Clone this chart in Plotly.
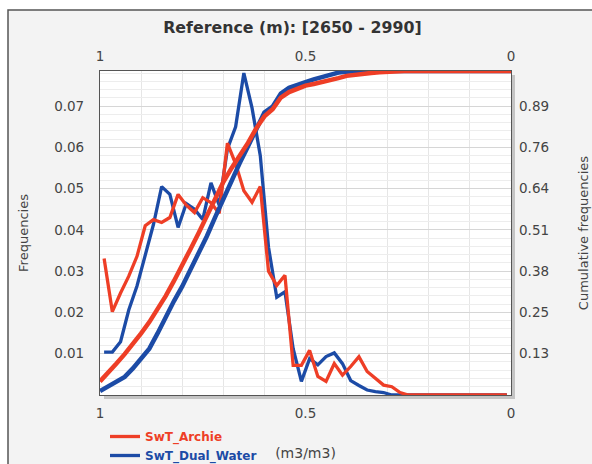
import plotly.graph_objects as go

# ---------------- data ----------------
freq_x = [0.99, 0.97, 0.95, 0.93, 0.91, 0.89, 0.87, 0.85, 0.83, 0.81,
          0.79, 0.77, 0.75, 0.73, 0.71, 0.69, 0.67, 0.65, 0.63, 0.61,
          0.59, 0.57, 0.55, 0.53, 0.51, 0.49, 0.47, 0.45, 0.43, 0.41,
          0.39, 0.37, 0.35, 0.33, 0.31, 0.29, 0.27, 0.25, 0.23, 0.21,
          0.19, 0.17, 0.15, 0.13, 0.11, 0.09, 0.07, 0.05, 0.03, 0.01]

archie_freq = [0.0331, 0.0202, 0.0247, 0.0288, 0.0336, 0.0410, 0.0425, 0.0418, 0.0430, 0.0486,
               0.0460, 0.0442, 0.0478, 0.0466, 0.0440, 0.0610, 0.0560, 0.0495, 0.0467, 0.0505,
               0.0300, 0.0265, 0.0290, 0.0072, 0.0072, 0.0108, 0.0045, 0.0033, 0.0076, 0.0048,
               0.0069, 0.0093, 0.0057, 0.0040, 0.0024, 0.0020, 0.0006, 0.0, 0.0, 0.0,
               0.0, 0.0, 0.0, 0.0, 0.0, 0.0, 0.0, 0.0, 0.0, 0.0]

dual_freq = [0.0104, 0.0104, 0.0129, 0.0206, 0.0264, 0.0339, 0.0413, 0.0505, 0.0486, 0.0406,
             0.0464, 0.0450, 0.0425, 0.0514, 0.0460, 0.0596, 0.0650, 0.0780, 0.0695, 0.0580,
             0.0358, 0.0237, 0.0250, 0.0112, 0.0033, 0.0088, 0.0073, 0.0093, 0.0102, 0.0076,
             0.0035, 0.0023, 0.0012, 0.0008, 0.0006, 0.0, 0.0, 0.0, 0.0, 0.0,
             0.0, 0.0, 0.0, 0.0, 0.0, 0.0, 0.0, 0.0, 0.0, 0.0]

cum_x = [1.00, 0.98, 0.96, 0.94, 0.92, 0.90, 0.88, 0.86, 0.84, 0.82,
         0.80, 0.78, 0.76, 0.74, 0.72, 0.70, 0.68, 0.66, 0.64, 0.62,
         0.60, 0.58, 0.56, 0.54, 0.52, 0.50, 0.48, 0.46, 0.44, 0.42,
         0.40, 0.38, 0.36, 0.34, 0.32, 0.30, 0.28, 0.26, 0.24, 0.22,
         0.20, 0.18, 0.16, 0.14, 0.12, 0.10, 0.08, 0.06, 0.04, 0.02, 0.00]

archie_cum = [0.042, 0.068, 0.097, 0.126, 0.157, 0.190, 0.225, 0.265, 0.306, 0.352,
              0.398, 0.450, 0.500, 0.552, 0.605, 0.657, 0.700, 0.738, 0.778, 0.823,
              0.860, 0.882, 0.918, 0.935, 0.945, 0.955, 0.960, 0.965, 0.970, 0.978,
              0.985, 0.989, 0.992, 0.994, 0.996, 0.998, 1.0, 1.0, 1.0, 1.0,
              1.0, 1.0, 1.0, 1.0, 1.0, 1.0, 1.0, 1.0, 1.0, 1.0, 1.0]

dual_cum = [0.012, 0.028, 0.041, 0.056, 0.082, 0.110, 0.143, 0.190, 0.244, 0.290,
            0.335, 0.385, 0.435, 0.490, 0.548, 0.606, 0.662, 0.716, 0.767, 0.818,
            0.872, 0.890, 0.930, 0.948, 0.958, 0.966, 0.974, 0.982, 0.990, 0.995,
            0.998, 1.0, 1.0, 1.0, 1.0, 1.0, 1.0, 1.0, 1.0, 1.0,
            1.0, 1.0, 1.0, 1.0, 1.0, 1.0, 1.0, 1.0, 1.0, 1.0, 1.0]

x_ticks = [1, 0.5, 0]
x_tick_labels = ["1", "0.5", "0"]
freq_ticks = [0.01, 0.02, 0.03, 0.04, 0.05, 0.06, 0.07]
freq_tick_labels = ["0.01", "0.02", "0.03", "0.04", "0.05", "0.06", "0.07"]
cum_tick_labels = ["0.13", "0.25", "0.38", "0.51", "0.64", "0.76", "0.89"]
FREQ_MAX = 0.0785

RED = "#EE3E26"
BLUE = "#1C4BA6"
FONT = "DejaVu Sans"
TXT = "#444444"

fig = go.Figure()

fig.add_trace(go.Scatter(x=cum_x, y=dual_cum, mode="lines", xaxis="x", yaxis="y2",
                         line=dict(color=BLUE, width=4.5), showlegend=False))
fig.add_trace(go.Scatter(x=cum_x, y=archie_cum, mode="lines", xaxis="x", yaxis="y2",
                         line=dict(color=RED, width=4.5), showlegend=False))
fig.add_trace(go.Scatter(x=freq_x, y=dual_freq, mode="lines", xaxis="x", yaxis="y",
                         line=dict(color=BLUE, width=3.3), legendrank=2,
                         name='<b><span style="color:%s">SwT_Dual_Water</span></b>' % BLUE))
fig.add_trace(go.Scatter(x=freq_x, y=archie_freq, mode="lines", xaxis="x", yaxis="y",
                         line=dict(color=RED, width=3.3), legendrank=1,
                         name='<b><span style="color:%s">SwT_Archie</span></b>' % RED))
# invisible trace to carry the top axis
fig.add_trace(go.Scatter(x=[1, 0], y=[0, 0], xaxis="x2", yaxis="y", mode="lines",
                         line=dict(width=0), hoverinfo="skip", showlegend=False))

# plot-area geometry helpers (paper coords)
L, R, T, B, W, H = 100, 511, 71, 395, 592, 464
pw, ph = R - L, B - T
def px(x): return (x - L) / pw
def py(y): return (B - y) / ph

shapes = [
    dict(type="rect", xref="paper", yref="paper", layer="below",
         x0=px(8), x1=px(600), y0=py(470), y1=py(10),
         fillcolor="#f3f3f3", line=dict(color="#555555", width=1.5)),
    dict(type="rect", xref="paper", yref="paper", layer="below",
         x0=px(104), x1=px(515), y0=py(399), y1=py(75),
         fillcolor="#c4c4c4", line=dict(width=0)),
    dict(type="rect", xref="paper", yref="paper", layer="below",
         x0=0, x1=1, y0=0, y1=1, fillcolor="white", line=dict(width=0)),
]

tickfont = dict(family=FONT, size=13.5, color=TXT)

fig.update_layout(
    width=W, height=H,
    margin=dict(l=L, r=W - R, t=T, b=H - B, autoexpand=False),
    paper_bgcolor="white", plot_bgcolor="rgba(0,0,0,0)",
    shapes=shapes,
    title=dict(text="<b>Reference (m): [2650 - 2990]</b>", x=px(303), xanchor="center",
               y=1 - 27 / H, yanchor="middle", font=dict(family=FONT, size=15.8, color="#333333")),
    xaxis=dict(range=[1, 0], tickvals=x_ticks, ticktext=x_tick_labels, tickfont=tickfont,
               showgrid=True, gridcolor="#dcdcdc", gridwidth=1,
               minor=dict(dtick=0.1, showgrid=True, gridcolor="#e6e6e6", gridwidth=1),
               showline=True, linecolor="#555555", linewidth=1.2, mirror=True,
               zeroline=False, ticks="", ticklabelstandoff=6, automargin=False,
               title=dict(text="(m3/m3)", font=dict(family=FONT, size=14, color=TXT), standoff=27)),
    xaxis2=dict(range=[1, 0], overlaying="x", side="top", tickvals=x_ticks, ticktext=x_tick_labels,
                tickfont=tickfont, showgrid=False, zeroline=False, ticks="", ticklabelstandoff=6,
                automargin=False),
    yaxis=dict(range=[0, FREQ_MAX], tickvals=freq_ticks, ticktext=freq_tick_labels, tickfont=tickfont,
               showgrid=True, gridcolor="#d6d6d6", gridwidth=1,
               minor=dict(dtick=0.002, showgrid=True, gridcolor="#ededed", gridwidth=1),
               showline=True, linecolor="#555555", linewidth=1.2, mirror=True,
               zeroline=False, ticks="", ticklabelstandoff=12, automargin=False,
               title=dict(text="Frequencies", font=dict(family=FONT, size=13, color=TXT), standoff=22)),
    yaxis2=dict(range=[0, 1], overlaying="y", side="right",
                tickvals=[v / FREQ_MAX for v in freq_ticks], ticktext=cum_tick_labels,
                tickfont=tickfont, showgrid=False, zeroline=False, ticks="", ticklabelstandoff=7,
                automargin=False,
                title=dict(text="Cumulative frequencies", font=dict(family=FONT, size=13, color=TXT),
                           standoff=30)),
    legend=dict(x=px(105), y=py(422), xanchor="left", yanchor="top", bgcolor="rgba(0,0,0,0)",
                font=dict(family=FONT, size=12), tracegroupgap=0, itemwidth=30),
    showlegend=True,
)

fig.write_html("out.html")
